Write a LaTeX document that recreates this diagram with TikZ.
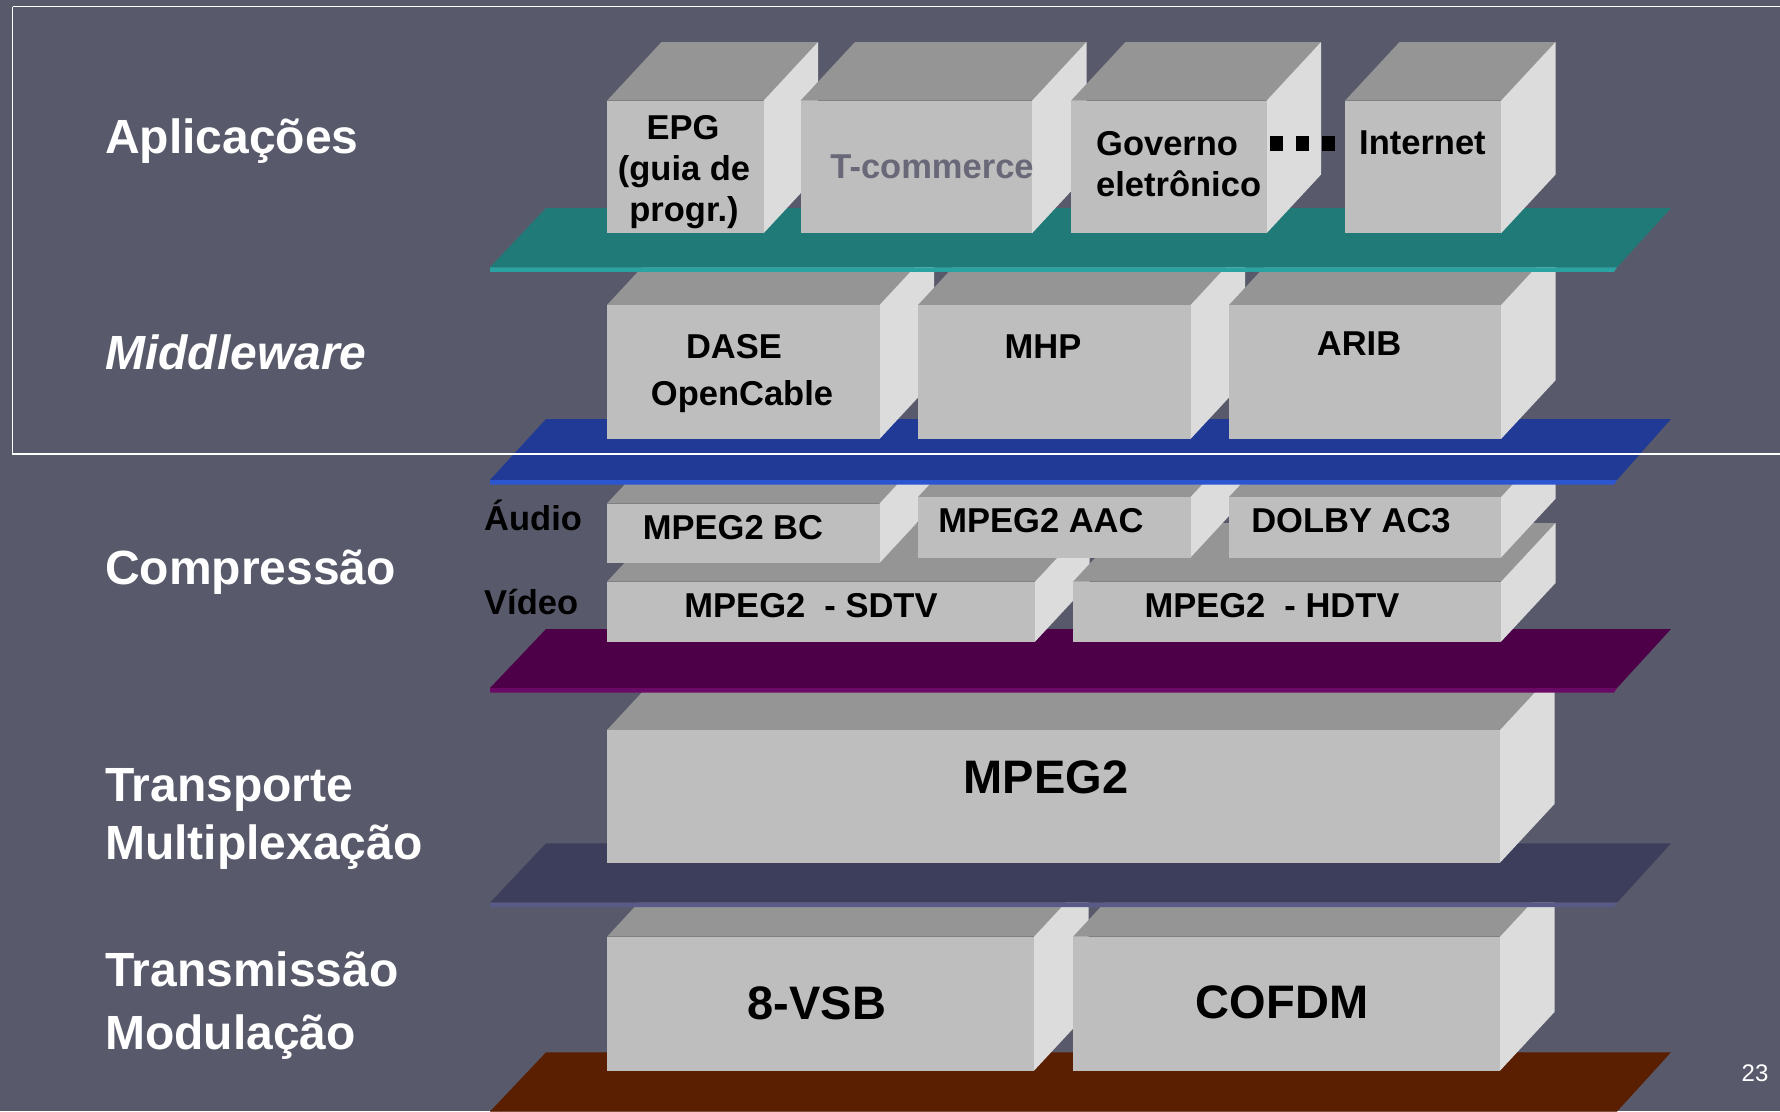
\documentclass[tikz,border=0pt]{standalone}
\usepackage{fontspec}
\setmainfont{Liberation Sans}

\definecolor{bg}{HTML}{585A6B}
\definecolor{cubefrontc}{HTML}{BEBEBE}
\definecolor{cubetopc}{HTML}{959595}
\definecolor{cubesidec}{HTML}{DCDCDC}
\definecolor{tealc}{HTML}{1F7A78}
\definecolor{tealedge}{HTML}{2BA3A3}
\definecolor{bluec}{HTML}{203A96}
\definecolor{blueedge}{HTML}{2C55D0}
\definecolor{purplec}{HTML}{4D0048}
\definecolor{purpleedge}{HTML}{6B0A66}
\definecolor{slatec}{HTML}{3D3D5C}
\definecolor{slateedge}{HTML}{5A5A88}
\definecolor{brownc}{HTML}{5A1E00}
\definecolor{dimtext}{HTML}{686878}

% a grey block: front face from (#1,#2) to (#3,#4), with top and right faces
\newcommand\layercube[4]{%
  \fill[cubetopc] (#1,#2) -- (#1+54.5,#2-58.7) -- (#3+54.5,#2-58.7) -- (#3,#2) -- cycle;
  \fill[cubesidec] (#3,#2) -- (#3+54.5,#2-58.7) -- (#3+54.5,#4-58.7) -- (#3,#4) -- cycle;
  \fill[cubefrontc] (#1,#2) rectangle (#3,#4);}

% a slanted layer plate: top edge at y=#1, bottom edge at y=#2, lit front rim below
\newcommand\layerplate[4]{%
  \fill[#3] (546,#1) -- (1671,#1) -- (1617,#2) -- (490,#2) -- cycle;
  \fill[#4] (490,#2) -- (1617,#2) -- (1614,#2+4.5) -- (490,#2+4.5) -- cycle;}

\tikzset{
  lbl/.style={text=white, font=\bfseries\fontsize{48}{54}\selectfont, inner sep=0pt, anchor=base west},
  boxtxt/.style={text=black, font=\bfseries\fontsize{34.5}{41}\selectfont, inner sep=0pt, anchor=base},
  bigtxt/.style={text=black, font=\bfseries\fontsize{47}{52}\selectfont, inner sep=0pt, anchor=base},
}

\begin{document}
\begin{tikzpicture}[x=1pt, y=-1pt]
\useasboundingbox (0,0) rectangle (1780,1111);
\clip (0,0) rectangle (1780,1111);
\fill[bg] (0,0) rectangle (1780,1111);

% transmission / modulation
\layerplate{1052.3}{1111.5}{brownc}{brownc}
\layercube{607}{936.7}{1034}{1070.7}
\layercube{1073}{936.7}{1500}{1070.7}

% transport / multiplexing
\layerplate{843.3}{902.7}{slatec}{slateedge}
\layercube{607}{730}{1500}{862.7}

% compression
\layerplate{629}{688}{purplec}{purpleedge}
\layercube{607}{581.7}{1035}{641.7}
\layercube{1073}{581.7}{1501}{641.7}
\layercube{607}{503.5}{879.5}{563}
\layercube{918}{497}{1190.5}{557.5}
\layercube{1229}{497}{1501}{557.5}

% middleware
\layerplate{419}{480}{bluec}{blueedge}
\layercube{607}{305}{879.5}{439}
\layercube{918}{305}{1190.5}{439}
\layercube{1229}{305}{1501}{439}

% applications
\layerplate{208}{267.3}{tealc}{tealedge}
\layercube{607}{100.7}{763.5}{233.3}
\layercube{800.5}{100.7}{1032}{233.3}
\layercube{1071}{100.7}{1266.5}{233.3}
\layercube{1345}{100.7}{1501}{233.3}

% ellipsis between the application blocks
\fill[black] (1270,136) rectangle (1283,150.5);
\fill[black] (1296,136) rectangle (1309,150.5);
\fill[black] (1322,136) rectangle (1335,150.5);

% frame round the upper two layers
\draw[white, line width=1.8pt] (12.5,6.5) -- (1800,6.5) (12.5,6.5) -- (12.5,454) -- (1800,454);

% layer names
\node[lbl] (lapp) at (105,153.5) {Aplicações};
\node[lbl] (lmid) at (105,369) {\itshape Middleware};
\node[lbl] (lcomp) at (105,584) {Compressão};
\node[lbl] (ltrans) at (105,801) {Transporte};
\node[lbl] (lmux) at (105,859) {Multiplexação};
\node[lbl] (ltx) at (105,986) {Transmissão};
\node[lbl] (lmod) at (105,1049) {Modulação};

% applications
\node[boxtxt] (epg1) at (683,139) {EPG};
\node[boxtxt] (epg2) at (684,180) {(guia de};
\node[boxtxt] (epg3) at (684,221) {progr.)};
\node[boxtxt, text=dimtext] (tcom) at (932,178) {T-commerce};
\node[boxtxt, anchor=base west] (gov1) at (1096,155) {Governo};
\node[boxtxt, anchor=base west] (gov2) at (1096,196) {eletrônico};
\node[boxtxt, anchor=base west] (inet) at (1359,154) {Internet};

% middleware
\node[boxtxt] (dase) at (734,358) {DASE};
\node[boxtxt] (ocab) at (742,405) {OpenCable};
\node[boxtxt] (mhp) at (1043,358) {MHP};
\node[boxtxt] (arib) at (1359,355) {ARIB};

% compression
\node[boxtxt, anchor=base west] (audio) at (484,530) {Áudio};
\node[boxtxt, anchor=base west] (video) at (484,614) {Vídeo};
\node[boxtxt] (bc) at (733,539) {MPEG2 BC};
\node[boxtxt] (aac) at (1041,532) {MPEG2 AAC};
\node[boxtxt] (dolby) at (1351,532) {DOLBY AC3};
\node[boxtxt] (sdtv) at (811,617) {MPEG2\ \ - SDTV};
\node[boxtxt] (hdtv) at (1272,617) {MPEG2\ \ - HDTV};

% transport and transmission
\node[bigtxt] (mpeg) at (1046,793) {MPEG2};
\node[bigtxt] (vsb) at (817,1019) {8-VSB};
\node[bigtxt] (ofdm) at (1282,1018) {COFDM};

% page number
\node[text=white, font=\fontsize{24}{28}\selectfont, inner sep=0pt, anchor=base] (pg) at (1755,1081) {23};
\end{tikzpicture}
\end{document}
